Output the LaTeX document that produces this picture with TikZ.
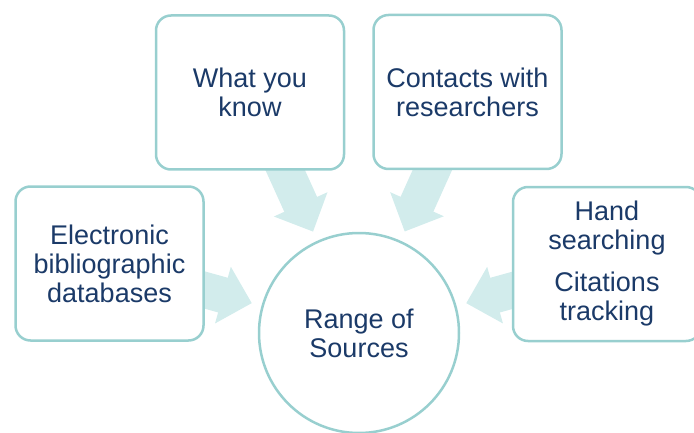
\documentclass[tikz,border=0pt]{standalone}
\usepackage{fontspec}
\setmainfont{Liberation Sans}
\usepackage{tikz}
\usepackage{xcolor}
\usetikzlibrary{arrows.meta,backgrounds}
\definecolor{navytext}{RGB}{27,58,104}
\definecolor{tealline}{RGB}{152,207,207}
\definecolor{tealfill}{RGB}{210,236,236}
\tikzset{
    source-box/.style = {draw=tealline, fill=white, line width=2.5pt, rectangle, rounded corners=15pt, minimum width=188pt, minimum height=154pt, align=center, text=navytext, font=\fontsize{27}{29}\selectfont},
    source-circle/.style = {draw=tealline, fill=white, line width=2.5pt, circle, minimum size=200pt, align=center, text=navytext, font=\fontsize{27}{29}\selectfont},
    fat-arrow/.style = {draw=tealfill, line width=36pt, -{Triangle[width=57pt, length=30pt]}, shorten >=10pt},
}

\begin{document}
\begin{tikzpicture}[x=1pt, y=1pt]
\useasboundingbox (0,0) rectangle (694,432);
\node [source-circle] (range) at (359,99) {Range of\\Sources};
\node [source-box] (know) at (250,339.5) {What you\\know};
\node [source-box] (contacts) at (467.5,340) {Contacts with\\researchers};
\node [source-box] (electronic) at (109.5,168.5) {Electronic\\bibliographic\\databases};
\node [source-box] (hand) at (607,168) {Hand\\searching\\[13pt]Citations\\tracking};
\begin{pgfonlayer}{background}
\draw [fat-arrow] (know.center) -- (range);
\draw [fat-arrow] (contacts.center) -- (range);
\draw [fat-arrow] (electronic.center) -- (range);
\draw [fat-arrow] (hand.center) -- (range);
\end{pgfonlayer}
\end{tikzpicture}
\end{document}
